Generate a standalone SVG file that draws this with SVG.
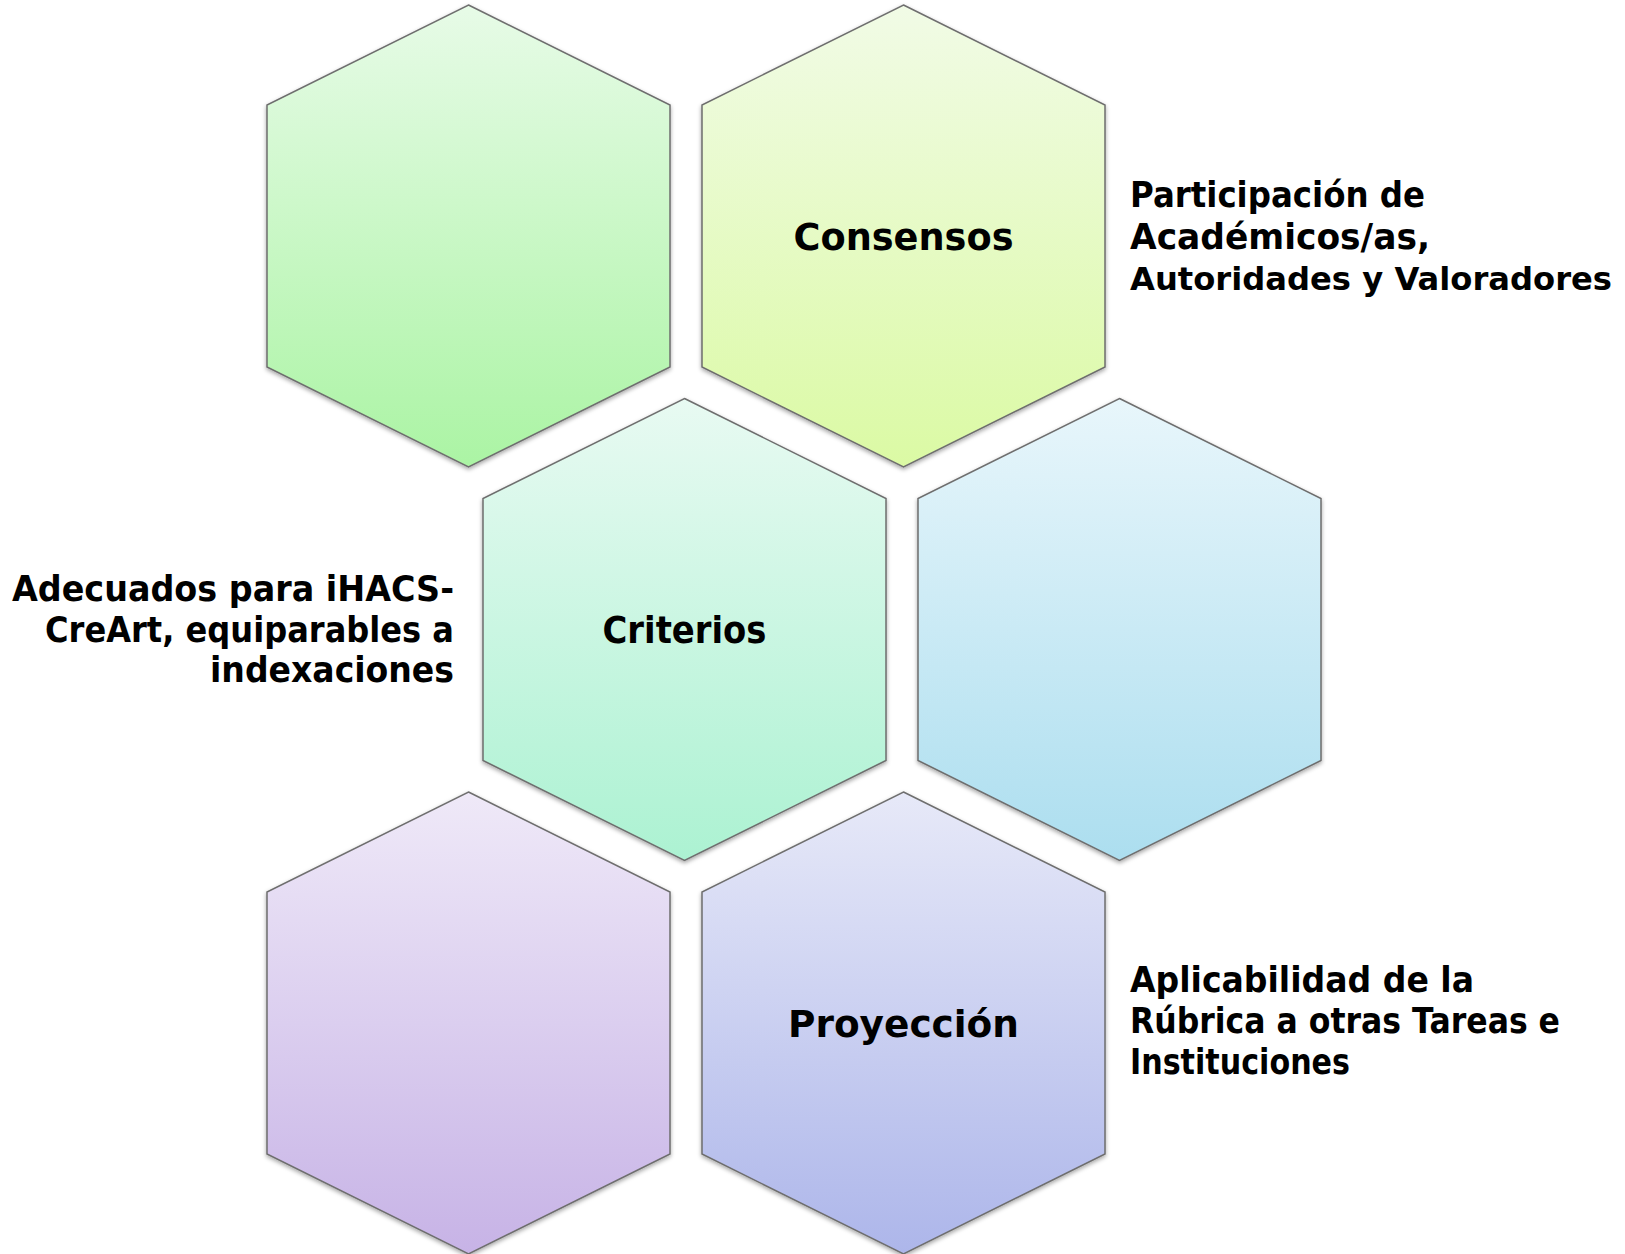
<svg xmlns="http://www.w3.org/2000/svg" width="1625" height="1254" viewBox="0 0 1625 1254">
  <defs>
    <linearGradient id="g1" x1="0" y1="0" x2="0" y2="1"><stop offset="0" stop-color="#E7FBE7"/><stop offset="1" stop-color="#ABF4A4"/></linearGradient>
    <linearGradient id="g2" x1="0" y1="0" x2="0" y2="1"><stop offset="0" stop-color="#F1FBE6"/><stop offset="1" stop-color="#DBFAA4"/></linearGradient>
    <linearGradient id="g3" x1="0" y1="0" x2="0" y2="1"><stop offset="0" stop-color="#E8FAF2"/><stop offset="1" stop-color="#ACF2D2"/></linearGradient>
    <linearGradient id="g4" x1="0" y1="0" x2="0" y2="1"><stop offset="0" stop-color="#E8F6FB"/><stop offset="1" stop-color="#ACDEEF"/></linearGradient>
    <linearGradient id="g5" x1="0" y1="0" x2="0" y2="1"><stop offset="0" stop-color="#EFE9F8"/><stop offset="1" stop-color="#C7B3E6"/></linearGradient>
    <linearGradient id="g6" x1="0" y1="0" x2="0" y2="1"><stop offset="0" stop-color="#E7E9F8"/><stop offset="1" stop-color="#ADB6EA"/></linearGradient>
    <filter id="sh" x="-5%" y="-5%" width="110%" height="110%">
      <feDropShadow dx="0" dy="2" stdDeviation="2" flood-color="#000" flood-opacity="0.35"/>
    </filter>
    <polygon id="hex" points="0,0 201.5,100 201.5,362 0,462 -201.5,362 -201.5,100"/>
  </defs>
  <style>
    .hex { stroke: #6E6E6E; stroke-width: 1.5; filter: url(#sh); }
    .lbl { font-family: "DejaVu Sans", "Liberation Sans", sans-serif; font-weight: bold; fill: #000; }
    .big { font-size: 38px; text-anchor: middle; }
    .side { font-size: 35px; }
    .side-s { font-size: 32.5px; }
  </style>
  <rect width="1625" height="1254" fill="#FFFFFF"/>
  <g id="connectors"></g>
  <g id="hex-top-left">
    <use href="#hex" class="hex" fill="url(#g1)" x="468.5" y="5"/>
  </g>
  <g id="hex-consensos">
    <use href="#hex" class="hex" fill="url(#g2)" x="903.5" y="5"/>
    <text class="lbl big" x="903.5" y="250" textLength="220" lengthAdjust="spacingAndGlyphs">Consensos</text>
  </g>
  <g id="label-consensos">
    <text class="lbl side" x="1130" y="207" textLength="295" lengthAdjust="spacingAndGlyphs">Participación de</text>
    <text class="lbl side" x="1130" y="248.5" textLength="300" lengthAdjust="spacingAndGlyphs">Académicos/as,</text>
    <text class="lbl side-s" x="1130" y="290" textLength="482" lengthAdjust="spacingAndGlyphs">Autoridades y Valoradores</text>
  </g>
  <g id="hex-criterios">
    <use href="#hex" class="hex" fill="url(#g3)" x="684.5" y="398.5"/>
    <text class="lbl big" x="684.5" y="643" textLength="164" lengthAdjust="spacingAndGlyphs">Criterios</text>
  </g>
  <g id="label-criterios">
    <text class="lbl side" x="454" y="601" text-anchor="end" textLength="442" lengthAdjust="spacingAndGlyphs">Adecuados para iHACS-</text>
    <text class="lbl side" x="454" y="641.5" text-anchor="end" textLength="409" lengthAdjust="spacingAndGlyphs">CreArt, equiparables a</text>
    <text class="lbl side" x="454" y="682" text-anchor="end" textLength="244" lengthAdjust="spacingAndGlyphs">indexaciones</text>
  </g>
  <g id="hex-mid-right">
    <use href="#hex" class="hex" fill="url(#g4)" x="1119.5" y="398.5"/>
  </g>
  <g id="hex-bottom-left">
    <use href="#hex" class="hex" fill="url(#g5)" x="468.5" y="792"/>
  </g>
  <g id="hex-proyeccion">
    <use href="#hex" class="hex" fill="url(#g6)" x="903.5" y="792"/>
    <text class="lbl big" x="903.5" y="1037" textLength="231" lengthAdjust="spacingAndGlyphs">Proyección</text>
  </g>
  <g id="label-proyeccion">
    <text class="lbl side" x="1130" y="992" textLength="344" lengthAdjust="spacingAndGlyphs">Aplicabilidad de la</text>
    <text class="lbl side" x="1130" y="1033" textLength="430" lengthAdjust="spacingAndGlyphs">Rúbrica a otras Tareas e</text>
    <text class="lbl side" x="1130" y="1074" textLength="220" lengthAdjust="spacingAndGlyphs">Instituciones</text>
  </g>
</svg>
